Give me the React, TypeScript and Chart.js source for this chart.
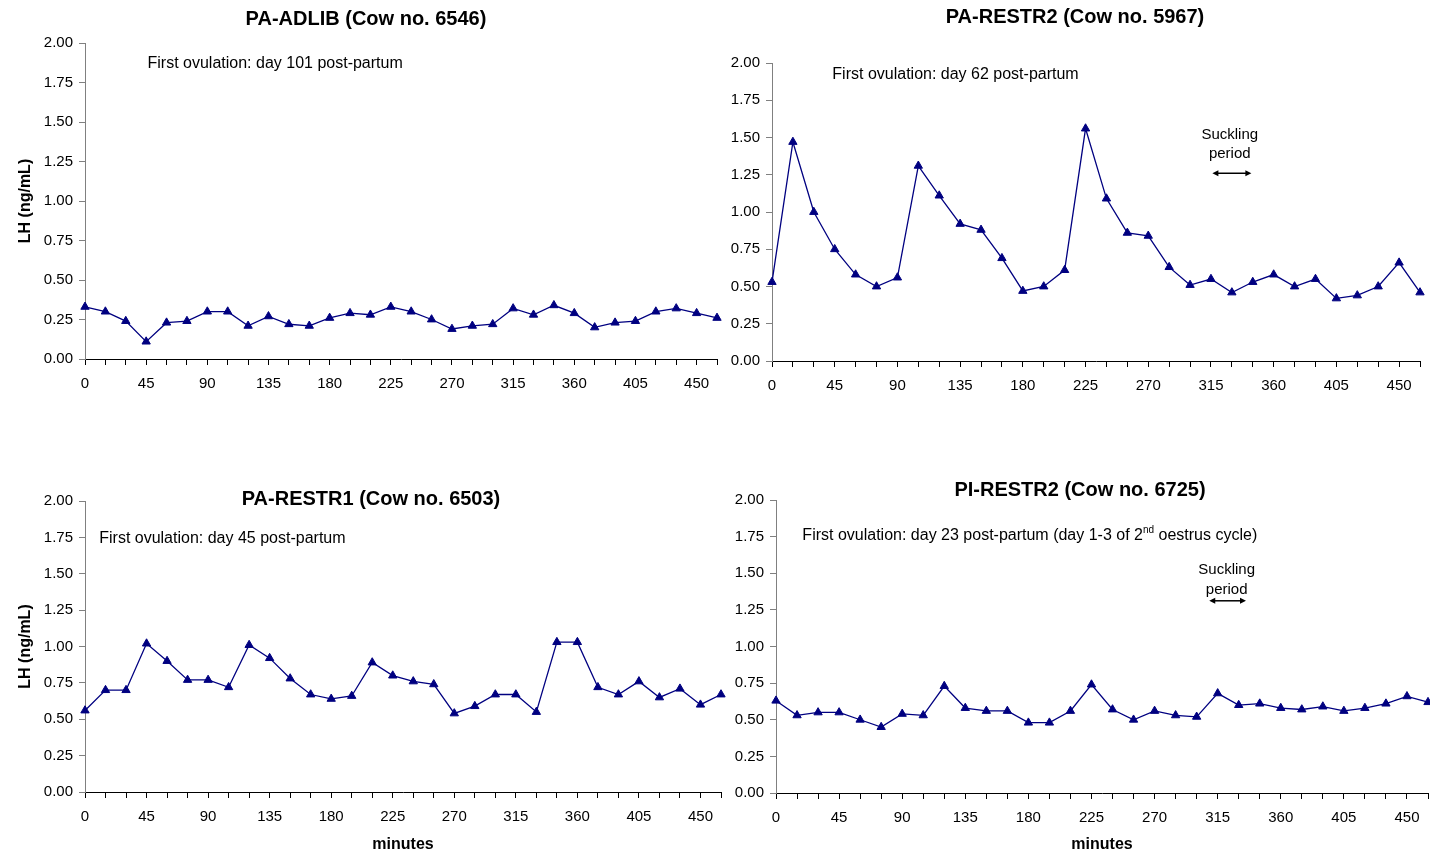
import React, { useEffect, useRef } from "react";
import { Chart, registerables } from "chart.js";

Chart.register(...registerables);

// ---- data ----
const MINUTES = [
  0, 15, 30, 45, 60, 75, 90, 105, 120, 135, 150, 165, 180, 195, 210, 225,
  240, 255, 270, 285, 300, 315, 330, 345, 360, 375, 390, 405, 420, 435, 450, 465,
];
const X_LABEL_EVERY = 45;
const Y_MIN = 0;
const Y_MAX = 2;
const Y_STEP = 0.25;

const LH_PA_ADLIB_6546 = [
  0.33, 0.30, 0.24, 0.11, 0.23, 0.24, 0.30, 0.30, 0.21, 0.27, 0.22, 0.21, 0.26, 0.29, 0.28, 0.33,
  0.30, 0.25, 0.19, 0.21, 0.22, 0.32, 0.28, 0.34, 0.29, 0.20, 0.23, 0.24, 0.30, 0.32, 0.29, 0.26,
];
const LH_PA_RESTR2_5967 = [
  0.53, 1.47, 1.00, 0.75, 0.58, 0.50, 0.56, 1.31, 1.11, 0.92, 0.88, 0.69, 0.47, 0.50, 0.61, 1.56,
  1.09, 0.86, 0.84, 0.63, 0.51, 0.55, 0.46, 0.53, 0.58, 0.50, 0.55, 0.42, 0.44, 0.50, 0.66, 0.46,
];
const LH_PA_RESTR1_6503 = [
  0.56, 0.70, 0.70, 1.02, 0.90, 0.77, 0.77, 0.72, 1.01, 0.92, 0.78, 0.67, 0.64, 0.66, 0.89, 0.80,
  0.76, 0.74, 0.54, 0.59, 0.67, 0.67, 0.55, 1.03, 1.03, 0.72, 0.67, 0.76, 0.65, 0.71, 0.60, 0.67,
];
const LH_PI_RESTR2_6725 = [
  0.63, 0.53, 0.55, 0.55, 0.50, 0.45, 0.54, 0.53, 0.73, 0.58, 0.56, 0.56, 0.48, 0.48, 0.56, 0.74,
  0.57, 0.50, 0.56, 0.53, 0.52, 0.68, 0.60, 0.61, 0.58, 0.57, 0.59, 0.56, 0.58, 0.61, 0.66, 0.62,
];

// ---- styling ----
const FONT = "'Liberation Sans', Arial, Helvetica, sans-serif";
const LINE_COLOR = "#000080";
const PAGE_W = 1430;
const PAGE_H = 855;
const CANVAS_W = 1460; // a bit wider than the page so right padding never limits the plot
const Y_AXIS_W = 60;
const X_AXIS_H = 40;

type Part = { text: string; sup?: boolean };
interface PanelSpec {
  id: string;
  title: string;
  titleCenter: [number, number];
  values: number[];
  area: { left: number; top: number; right: number; bottom: number };
  yTitle?: string;
  xTitle?: string;
  note: { minute: number; value: number; parts: Part[] };
  suckling?: {
    textMinute: number;
    line1Value: number;
    line2Value: number;
    fromMinute: number;
    toMinute: number;
    arrowValue: number;
  };
}

const PANELS: PanelSpec[] = [
  {
    id: "p1",
    title: "PA-ADLIB (Cow no. 6546)",
    titleCenter: [366, 19],
    values: LH_PA_ADLIB_6546,
    area: { left: 85, top: 43, right: 717, bottom: 359 },
    yTitle: "LH (ng/mL)",
    note: { minute: 46, value: 1.87, parts: [{ text: "First ovulation: day 101 post-partum" }] },
  },
  {
    id: "p2",
    title: "PA-RESTR2 (Cow no. 5967)",
    titleCenter: [1075, 17],
    values: LH_PA_RESTR2_5967,
    area: { left: 772, top: 63, right: 1420, bottom: 361 },
    note: { minute: 43.3, value: 1.925, parts: [{ text: "First ovulation: day 62 post-partum" }] },
    suckling: { textMinute: 328.5, line1Value: 1.52, line2Value: 1.388, fromMinute: 316, toMinute: 344, arrowValue: 1.26 },
  },
  {
    id: "p3",
    title: "PA-RESTR1 (Cow no. 6503)",
    titleCenter: [371, 499],
    values: LH_PA_RESTR1_6503,
    area: { left: 85, top: 501, right: 721, bottom: 792 },
    yTitle: "LH (ng/mL)",
    xTitle: "minutes",
    note: { minute: 10.4, value: 1.745, parts: [{ text: "First ovulation: day 45 post-partum" }] },
  },
  {
    id: "p4",
    title: "PI-RESTR2 (Cow no. 6725)",
    titleCenter: [1080, 490],
    values: LH_PI_RESTR2_6725,
    area: { left: 776, top: 500, right: 1428, bottom: 793 },
    xTitle: "minutes",
    note: {
      minute: 18.8,
      value: 1.755,
      parts: [
        { text: "First ovulation: day 23 post-partum (day 1-3 of 2" },
        { text: "nd", sup: true },
        { text: " oestrus cycle)" },
      ],
    },
    suckling: { textMinute: 321.4, line1Value: 1.52, line2Value: 1.386, fromMinute: 309, toMinute: 335.2, arrowValue: 1.312 },
  },
];

function drawArrow(ctx: CanvasRenderingContext2D, x1: number, x2: number, y: number) {
  const head = 6;
  const half = 3;
  ctx.save();
  ctx.strokeStyle = "#000";
  ctx.fillStyle = "#000";
  ctx.lineWidth = 1.5;
  ctx.beginPath();
  ctx.moveTo(x1 + head - 1, y);
  ctx.lineTo(x2 - head + 1, y);
  ctx.stroke();
  ctx.beginPath();
  ctx.moveTo(x1, y);
  ctx.lineTo(x1 + head, y - half);
  ctx.lineTo(x1 + head, y + half);
  ctx.closePath();
  ctx.fill();
  ctx.beginPath();
  ctx.moveTo(x2, y);
  ctx.lineTo(x2 - head, y - half);
  ctx.lineTo(x2 - head, y + half);
  ctx.closePath();
  ctx.fill();
  ctx.restore();
}

function Panel({ spec }: { spec: PanelSpec }) {
  const ref = useRef<HTMLCanvasElement | null>(null);

  useEffect(() => {
    const canvas = ref.current;
    if (!canvas) return;
    const a = spec.area;

    const textPlugin = {
      id: "panelText",
      afterDraw(chart: any) {
        const ctx: CanvasRenderingContext2D = chart.ctx;
        const xs = chart.scales.x;
        const ys = chart.scales.y;
        const ca = chart.chartArea;
        ctx.save();
        ctx.fillStyle = "#000";
        // title
        ctx.font = `bold 20px ${FONT}`;
        ctx.textAlign = "center";
        ctx.textBaseline = "middle";
        ctx.fillText(spec.title, spec.titleCenter[0], spec.titleCenter[1]);
        // y title
        if (spec.yTitle) {
          ctx.save();
          ctx.translate(25.5, (ca.top + ca.bottom) / 2);
          ctx.rotate(-Math.PI / 2);
          ctx.font = `bold 16px ${FONT}`;
          ctx.textAlign = "center";
          ctx.textBaseline = "middle";
          ctx.fillText(spec.yTitle, 0, 0);
          ctx.restore();
        }
        // x title
        if (spec.xTitle) {
          ctx.font = `bold 16px ${FONT}`;
          ctx.textAlign = "center";
          ctx.textBaseline = "middle";
          ctx.fillText(spec.xTitle, (ca.left + ca.right) / 2, 845);
        }
        // note
        let nx = xs.getPixelForValue(spec.note.minute);
        const ny = ys.getPixelForValue(spec.note.value);
        ctx.textAlign = "left";
        ctx.textBaseline = "middle";
        for (const part of spec.note.parts) {
          if (part.sup) {
            ctx.font = `10px ${FONT}`;
            ctx.fillText(part.text, nx, ny - 6);
          } else {
            ctx.font = `16px ${FONT}`;
            ctx.fillText(part.text, nx, ny);
          }
          nx += ctx.measureText(part.text).width;
        }
        // suckling period
        if (spec.suckling) {
          const s = spec.suckling;
          ctx.font = `15px ${FONT}`;
          ctx.textAlign = "center";
          const tx = xs.getPixelForValue(s.textMinute);
          ctx.fillText("Suckling", tx, ys.getPixelForValue(s.line1Value));
          ctx.fillText("period", tx, ys.getPixelForValue(s.line2Value));
          drawArrow(
            ctx,
            xs.getPixelForValue(s.fromMinute),
            xs.getPixelForValue(s.toMinute),
            ys.getPixelForValue(s.arrowValue)
          );
        }
        ctx.restore();
      },
    };

    const chart = new Chart(canvas, {
      type: "line",
      data: {
        datasets: [
          {
            data: MINUTES.map((m, i) => ({ x: m, y: spec.values[i] })),
            borderColor: LINE_COLOR,
            backgroundColor: LINE_COLOR,
            borderWidth: 1.3,
            pointStyle: "triangle",
            pointRadius: 4.8,
            pointBorderWidth: 1,
            pointBackgroundColor: LINE_COLOR,
            pointBorderColor: LINE_COLOR,
            tension: 0,
            fill: false,
            clip: false,
          } as any,
        ],
      },
      options: {
        responsive: false,
        animation: false,
        devicePixelRatio: 1,
        events: [],
        layout: {
          padding: {
            left: a.left - Y_AXIS_W,
            top: a.top,
            right: CANVAS_W - a.right,
            bottom: PAGE_H - a.bottom - X_AXIS_H,
          },
        },
        plugins: {
          legend: { display: false },
          tooltip: { enabled: false },
          title: { display: false },
        },
        scales: {
          x: {
            type: "linear",
            min: MINUTES[0],
            max: MINUTES[MINUTES.length - 1],
            afterFit(s: any) {
              s.height = X_AXIS_H;
            },
            ticks: {
              stepSize: MINUTES[1] - MINUTES[0],
              maxTicksLimit: 200,
              autoSkip: false,
              maxRotation: 0,
              minRotation: 0,
              padding: 10,
              color: "#000",
              font: { size: 15, family: FONT },
              callback: (v: any) => (Math.round(Number(v)) % X_LABEL_EVERY === 0 ? String(Math.round(Number(v))) : ""),
            },
            grid: { drawOnChartArea: false, drawTicks: true, tickLength: 6, color: "#000", lineWidth: 1 },
            border: { color: "#000", width: 1 },
          },
          y: {
            type: "linear",
            min: Y_MIN,
            max: Y_MAX,
            afterFit(s: any) {
              s.width = Y_AXIS_W;
            },
            ticks: {
              stepSize: Y_STEP,
              autoSkip: false,
              padding: 6,
              color: "#000",
              font: { size: 15, family: FONT },
              callback: (v: any) => Number(v).toFixed(2),
            },
            grid: { drawOnChartArea: false, drawTicks: true, tickLength: 6, color: "#808080", lineWidth: 1 },
            border: { color: "#808080", width: 1 },
          },
        },
      } as any,
      plugins: [textPlugin],
    });
    return () => chart.destroy();
  }, [spec]);

  return (
    <canvas
      ref={ref}
      width={CANVAS_W}
      height={PAGE_H}
      style={{ position: "absolute", left: 0, top: 0, width: CANVAS_W, height: PAGE_H, display: "block" }}
    />
  );
}

export default function App() {
  return (
    <div
      style={{
        position: "absolute",
        left: 0,
        top: 0,
        width: PAGE_W,
        height: PAGE_H,
        background: "#fff",
        overflow: "hidden",
      }}
    >
      {PANELS.map((p) => (
        <Panel key={p.id} spec={p} />
      ))}
    </div>
  );
}
